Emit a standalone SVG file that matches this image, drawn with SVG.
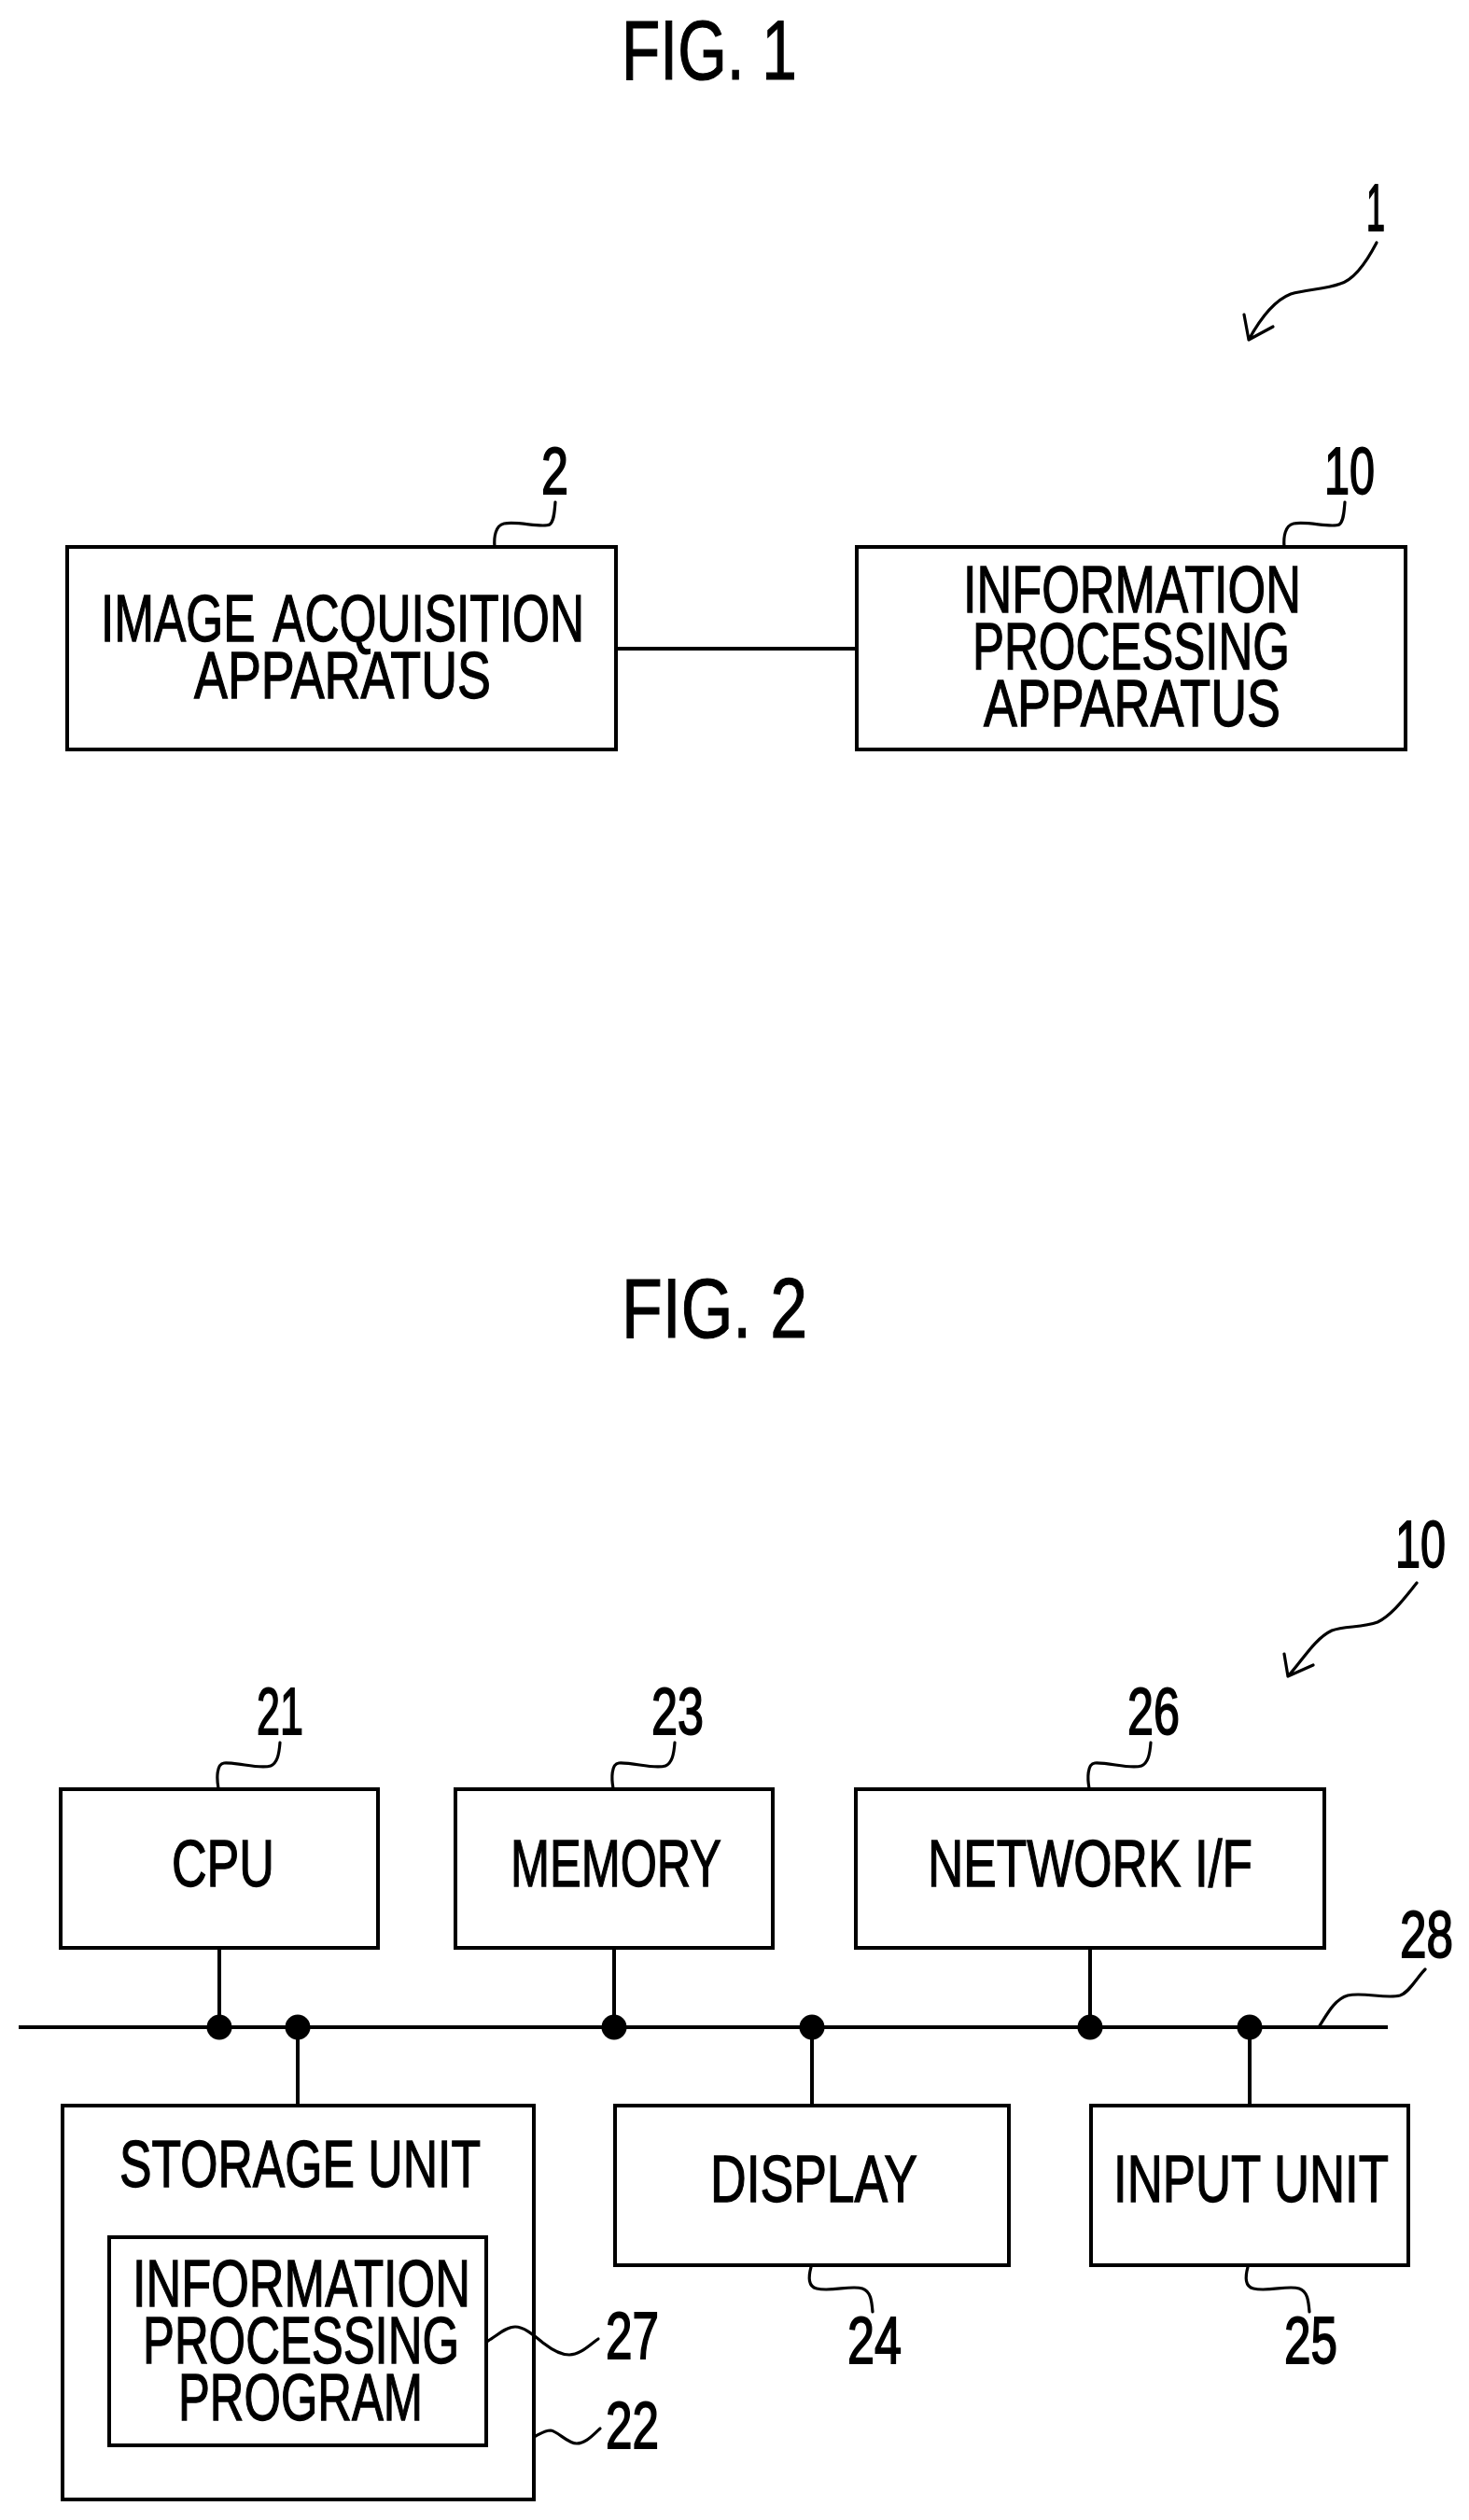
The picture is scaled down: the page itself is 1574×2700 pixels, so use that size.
<svg xmlns="http://www.w3.org/2000/svg" width="1574" height="2700" viewBox="0 0 1574 2700">
<style>
.box{fill:#fff;stroke:#000;stroke-width:4}
.ln{fill:none;stroke:#000;stroke-width:4}
.sq{fill:none;stroke:#000;stroke-width:3.2;stroke-linecap:round;stroke-linejoin:round}
.dot{fill:#000}
text{font-family:"Liberation Sans",Arial,sans-serif;fill:#000;font-size:70px;stroke:#000;stroke-width:1.3}
.num{stroke-width:1.8}
.fig{font-size:91px;stroke-width:1.2}
</style>
<rect width="1574" height="2700" fill="#fff"/>
<text class="fig" x="666" y="85" textLength="188" lengthAdjust="spacingAndGlyphs">FIG. 1</text>
<text class="num" x="1464" y="247" textLength="20" lengthAdjust="spacingAndGlyphs">1</text>
<g id="node-2">
<rect class="box" x="72" y="586" width="588" height="217"/>
<text x="108" y="687" textLength="518" lengthAdjust="spacingAndGlyphs" word-spacing="10">IMAGE ACQUISITION</text>
<text x="208" y="748" textLength="318" lengthAdjust="spacingAndGlyphs">APPARATUS</text>
<text class="num" x="580" y="529" textLength="29" lengthAdjust="spacingAndGlyphs">2</text>
</g>
<g id="node-10">
<rect class="box" x="918" y="586" width="588" height="217"/>
<text x="1032" y="656" textLength="362" lengthAdjust="spacingAndGlyphs">INFORMATION</text>
<text x="1042" y="717" textLength="340" lengthAdjust="spacingAndGlyphs">PROCESSING</text>
<text x="1054" y="778" textLength="318" lengthAdjust="spacingAndGlyphs">APPARATUS</text>
<text class="num" x="1419" y="529" textLength="54" lengthAdjust="spacingAndGlyphs">10</text>
</g>
<g id="fig1-connectors">
<path class="ln" d="M660 695H918"/>
<path class="sq" d="M1475 260C1462 285 1450 300 1436 304C1420 310 1400 310 1383 315C1365 322 1350 342 1338 364M1333 337L1338 364L1364 350"/>
<path class="sq" d="M595 538C594 548 594 558 589 562C580 566 555 558 540 561C531 563 529 575 530 586"/>
<path class="sq" d="M1441 538C1440 548 1440 558 1435 562C1426 566 1401 558 1386 561C1377 563 1375 575 1376 586"/>
</g>
<text class="fig" x="666" y="1433" textLength="199" lengthAdjust="spacingAndGlyphs">FIG. 2</text>
<text class="num" x="1495" y="1679" textLength="54" lengthAdjust="spacingAndGlyphs">10</text>
<g id="node-21">
<rect class="box" x="65" y="1917" width="340" height="170"/>
<text x="184" y="2021" textLength="110" lengthAdjust="spacingAndGlyphs">CPU</text>
<text class="num" x="275" y="1858" textLength="50" lengthAdjust="spacingAndGlyphs">21</text>
</g>
<g id="node-23">
<rect class="box" x="488" y="1917" width="340" height="170"/>
<text x="547" y="2021" textLength="226" lengthAdjust="spacingAndGlyphs">MEMORY</text>
<text class="num" x="698" y="1858" textLength="56" lengthAdjust="spacingAndGlyphs">23</text>
</g>
<g id="node-26">
<rect class="box" x="917" y="1917" width="502" height="170"/>
<text x="994" y="2021" textLength="348" lengthAdjust="spacingAndGlyphs">NETWORK I/F</text>
<text class="num" x="1208" y="1858" textLength="56" lengthAdjust="spacingAndGlyphs">26</text>
</g>
<g id="node-22">
<rect class="box" x="67" y="2256" width="505" height="422"/>
<text x="128" y="2343" textLength="387" lengthAdjust="spacingAndGlyphs">STORAGE UNIT</text>
<text class="num" x="649" y="2623" textLength="57" lengthAdjust="spacingAndGlyphs">22</text>
</g>
<g id="node-27">
<rect class="box" x="117" y="2397" width="404" height="223"/>
<text x="142" y="2471" textLength="362" lengthAdjust="spacingAndGlyphs">INFORMATION</text>
<text x="153" y="2532" textLength="339" lengthAdjust="spacingAndGlyphs">PROCESSING</text>
<text x="191" y="2593" textLength="262" lengthAdjust="spacingAndGlyphs">PROGRAM</text>
<text class="num" x="649" y="2527" textLength="57" lengthAdjust="spacingAndGlyphs">27</text>
</g>
<g id="node-24">
<rect class="box" x="659" y="2256" width="422" height="171"/>
<text x="761" y="2359" textLength="222" lengthAdjust="spacingAndGlyphs">DISPLAY</text>
<text class="num" x="908" y="2532" textLength="58" lengthAdjust="spacingAndGlyphs">24</text>
</g>
<g id="node-25">
<rect class="box" x="1169" y="2256" width="340" height="171"/>
<text x="1193" y="2359" textLength="295" lengthAdjust="spacingAndGlyphs">INPUT UNIT</text>
<text class="num" x="1376" y="2532" textLength="57" lengthAdjust="spacingAndGlyphs">25</text>
</g>
<g id="node-28">
<text class="num" x="1500" y="2097" textLength="57" lengthAdjust="spacingAndGlyphs">28</text>
</g>
<g id="fig2-connectors">
<path class="ln" d="M20 2172H1487"/>
<path class="ln" d="M235 2087V2172M319 2172V2256M658 2087V2172M870 2172V2256M1168 2087V2172M1339 2172V2256"/>
<circle class="dot" cx="235" cy="2172" r="13.5"/>
<circle class="dot" cx="319" cy="2172" r="13.5"/>
<circle class="dot" cx="658" cy="2172" r="13.5"/>
<circle class="dot" cx="870" cy="2172" r="13.5"/>
<circle class="dot" cx="1168" cy="2172" r="13.5"/>
<circle class="dot" cx="1339" cy="2172" r="13.5"/>
<path class="sq" d="M1518 1696C1505 1712 1492 1730 1476 1738C1460 1744 1440 1742 1427 1747C1408 1756 1395 1780 1380 1796M1376 1772L1380 1796L1407 1784"/>
<path id="lead-21" class="sq" d="M300 1867C299 1880 297 1889 290 1892C278 1896 255 1888 240 1889C232 1890 232 1905 234 1916"/>
<path id="lead-23" class="sq" d="M723 1867C722 1880 720 1889 713 1892C701 1896 678 1888 663 1889C655 1890 655 1905 657 1916"/>
<path id="lead-26" class="sq" d="M1233 1867C1232 1880 1230 1889 1223 1892C1211 1896 1188 1888 1173 1889C1165 1890 1165 1905 1167 1916"/>
<path id="lead-24" class="sq" d="M869 2429C866 2440 866 2450 875 2452C890 2456 912 2448 924 2452C933 2455 934 2465 935 2477"/>
<path id="lead-25" class="sq" d="M1337 2429C1334 2440 1334 2450 1343 2452C1358 2456 1380 2448 1392 2452C1401 2455 1402 2465 1403 2477"/>
<path id="lead-28" class="sq" d="M1413 2172C1422 2158 1430 2142 1444 2138C1460 2134 1485 2142 1500 2138C1510 2135 1518 2119 1527 2110"/>
<path id="lead-27" class="sq" d="M523 2508C532 2503 542 2493 552 2493C562 2493 573 2503 583 2511C592 2518 600 2523 610 2523C622 2523 632 2512 641 2506"/>
<path id="lead-22" class="sq" d="M574 2610C580 2607 584 2604 590 2604C598 2605 608 2618 618 2618C628 2618 636 2608 643 2602"/>
</g>
</svg>
